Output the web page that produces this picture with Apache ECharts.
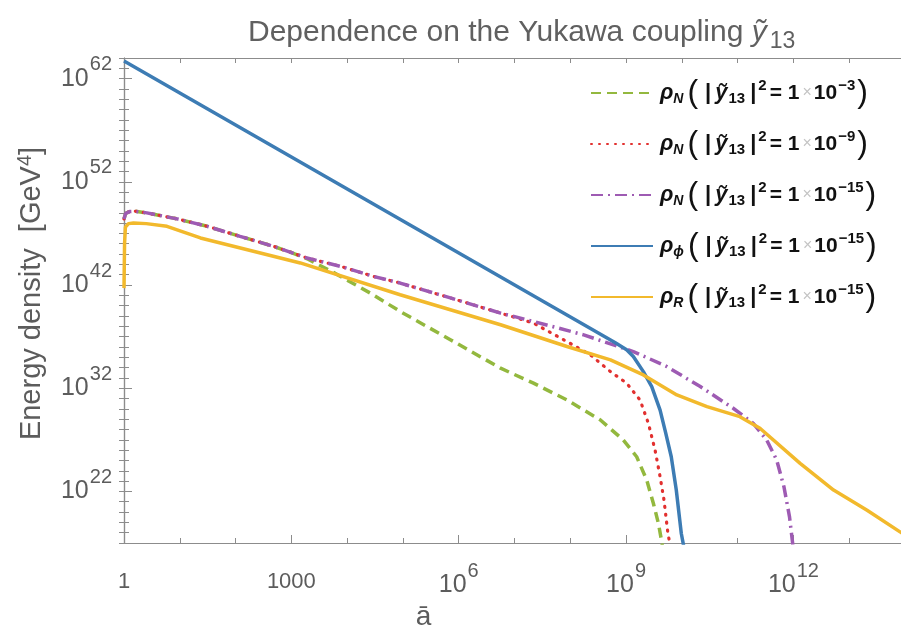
<!DOCTYPE html>
<html>
<head>
<meta charset="utf-8">
<script src="https://cdn.jsdelivr.net/npm/echarts@6/dist/echarts.min.js"></script>
<style>
  html, body { margin: 0; padding: 0; background: #fff; }
  #chart { width: 901px; height: 630px; }
</style>
</head>
<body>
<div id="chart"></div>
<script>
// Horizontal values are log10(ā), vertical values are log10(ρ / GeV^4).

// ρ_N, |ỹ13|^2 = 1e-3
const nDecay3X = [0, 0.03, 0.1, 0.2, 0.41, 0.95, 1.49, 2.08, 2.68, 3.0, 3.3, 3.76, 4.42, 4.95, 5.85, 6.75, 7.34, 7.94, 8.54, 8.95, 9.19, 9.37, 9.49, 9.58, 9.65];
const nDecay3Y = [48.4, 48.95, 49.12, 49.15, 48.99, 48.41, 47.69, 46.72, 45.75, 45.15, 44.5, 43.2, 41.2, 39.44, 36.7, 33.94, 32.49, 30.86, 28.92, 26.98, 25.36, 23.1, 20.83, 18.89, 16.8];

// ρ_N, |ỹ13|^2 = 1e-9
const nDecay9X = [0, 0.03, 0.1, 0.2, 0.41, 0.95, 1.49, 2.08, 2.68, 3.28, 3.88, 4.47, 4.95, 5.85, 6.75, 7.34, 7.94, 8.36, 8.72, 9.01, 9.25, 9.40, 9.52, 9.61, 9.68, 9.75, 9.79];
const nDecay9Y = [48.4, 48.95, 49.12, 49.15, 48.99, 48.41, 47.69, 46.72, 45.75, 44.62, 43.81, 42.84, 42.19, 40.75, 39.28, 38.31, 36.52, 35.23, 33.61, 32.49, 30.86, 28.6, 26.0, 23.42, 21.16, 17.92, 16.8];

// ρ_N, |ỹ13|^2 = 1e-15
const nDecay15X = [0, 0.03, 0.1, 0.2, 0.41, 0.95, 1.49, 2.08, 2.68, 3.28, 3.88, 4.47, 4.95, 5.85, 6.75, 7.34, 8.24, 9.13, 9.73, 10.33, 10.92, 11.28, 11.52, 11.70, 11.83, 11.93, 11.99];
const nDecay15Y = [48.4, 48.95, 49.12, 49.15, 48.99, 48.41, 47.69, 46.72, 45.75, 44.62, 43.81, 42.84, 42.19, 40.75, 39.28, 38.47, 37.17, 35.55, 34.10, 32.16, 30.06, 28.6, 26.98, 25.04, 22.45, 19.53, 16.8];

// ρ_φ, |ỹ13|^2 = 1e-15
const phiX = [0, 4.4, 8.8, 9.01, 9.13, 9.31, 9.46, 9.61, 9.71, 9.81, 9.90, 9.99, 10.04];
const phiY = [63.7, 50.06, 36.42, 35.72, 35.07, 33.61, 32.16, 29.88, 27.67, 25.36, 22.13, 17.92, 16.5];

// ρ_R, |ỹ13|^2 = 1e-15
const radX = [0, 0.01, 0.025, 0.08, 0.17, 0.4, 0.77, 1.37, 3.16, 4.95, 6.75, 7.94, 8.72, 9.31, 9.91, 10.45, 11.04, 11.40, 12.12, 12.72, 13.32, 13.91, 14.0];
const radY = [41.7, 46.0, 47.6, 47.95, 48.02, 47.95, 47.69, 46.56, 44.14, 41.06, 38.15, 36.04, 34.75, 33.29, 31.35, 30.21, 29.24, 28.12, 24.72, 22.13, 20.18, 18.08, 17.8];

// Axis ticks (exponents) and their labels
const xTickValues = [0, 3, 6, 9, 12];
const xTickLabels = ['1', '1000', '10^6', '10^9', '10^12'];
const yTickValues = [22, 32, 42, 52, 62];
const yTickLabels = ['10^22', '10^32', '10^42', '10^52', '10^62'];

// Legend: subscript of ρ and exponent of |ỹ13|^2
const legendSub = ['N', 'N', 'N', 'ϕ', 'R'];
const legendExp = ['−3', '−9', '−15', '−15', '−15'];
const seriesNames = ['rhoN3', 'rhoN9', 'rhoN15', 'rhoPhi', 'rhoR'];

const FONT = '"Liberation Sans", Arial, Helvetica, sans-serif';
const AXIS_GRAY = '#8c8c8c';
const LABEL_GRAY = '#5c5c5c';

function pairs(xs, ys) { return xs.map((x, i) => [x, ys[i]]); }

// "10^6" -> base + raised exponent; plain numbers use their own style
function powerRich(txt) {
  const k = txt.indexOf('^');
  if (k < 0) return '{p|' + txt + '}';
  return '{b|' + txt.slice(0, k) + '}{s|' + txt.slice(k + 1) + '}';
}

// Raising/lowering is done with asymmetric token padding
const tickRich = {
  p: { fontSize: 22, color: LABEL_GRAY, fontFamily: FONT, lineHeight: 22, padding: [7, 0, 0, 0] },
  b: { fontSize: 25, color: LABEL_GRAY, fontFamily: FONT, lineHeight: 25, padding: [12, 0, 0, 0] },
  s: { fontSize: 20, color: LABEL_GRAY, fontFamily: FONT, lineHeight: 20, padding: [0, 0, 16, 1] }
};

function legendText(i) {
  return '{rho|ρ}{sub|' + legendSub[i] + '}{par|(}{bar||}{y|ỹ}{n|13}{bar2||}{sup|2}{eq|= 1}{x|×}{eq2|10}{sup|' + legendExp[i] + '}{par|)}';
}

const INK = '#111111';
const legendRich = {
  rho: { fontSize: 22, fontWeight: 'bold', fontStyle: 'italic', fontFamily: FONT, color: INK },
  sub: { fontSize: 14, fontWeight: 'bold', fontStyle: 'italic', fontFamily: FONT, color: INK, lineHeight: 16, padding: [12, 2, 0, 0] },
  par: { fontSize: 32, fontFamily: FONT, color: INK, lineHeight: 34, padding: [0, 3, 0, 2] },
  bar: { fontSize: 22, fontWeight: 'bold', fontFamily: FONT, color: INK, padding: [0, 4, 0, 4] },
  bar2: { fontSize: 22, fontWeight: 'bold', fontFamily: FONT, color: INK, padding: [0, 1, 0, 5] },
  y: { fontSize: 22, fontWeight: 'bold', fontStyle: 'italic', fontFamily: FONT, color: INK },
  n: { fontSize: 15, fontWeight: 'bold', fontFamily: FONT, color: INK, lineHeight: 16, padding: [12, 0, 0, 1] },
  sup: { fontSize: 15, fontWeight: 'bold', fontFamily: FONT, color: INK, lineHeight: 16, padding: [0, 0, 14, 1] },
  eq: { fontSize: 21, fontWeight: 'bold', fontFamily: FONT, color: INK, padding: [0, 0, 0, 3] },
  eq2: { fontSize: 21, fontWeight: 'bold', fontFamily: FONT, color: INK },
  x: { fontSize: 16, fontFamily: FONT, color: '#c4c4c4', padding: [0, 2, 0, 3] }
};

const lineCommon = { type: 'line', symbol: 'none', showSymbol: false, smooth: false, clip: true, xAxisIndex: 0, yAxisIndex: 0 };

const series = [
  Object.assign({}, lineCommon, { name: seriesNames[0], data: pairs(nDecay3X, nDecay3Y),
    lineStyle: { color: '#93b83e', width: 3.5, type: [10, 6] }, itemStyle: { color: '#93b83e' } }),
  Object.assign({}, lineCommon, { name: seriesNames[1], data: pairs(nDecay9X, nDecay9Y),
    lineStyle: { color: '#e2302f', width: 3.2, type: [1, 7], cap: 'round' }, itemStyle: { color: '#e2302f' } }),
  Object.assign({}, lineCommon, { name: seriesNames[2], data: pairs(nDecay15X, nDecay15Y),
    lineStyle: { color: '#9e5bb3', width: 3.5, type: [12, 5, 2, 5] }, itemStyle: { color: '#9e5bb3' } }),
  Object.assign({}, lineCommon, { name: seriesNames[3], data: pairs(phiX, phiY),
    lineStyle: { color: '#3d7cb4', width: 3.5 }, itemStyle: { color: '#3d7cb4' } }),
  Object.assign({}, lineCommon, { name: seriesNames[4], data: pairs(radX, radY),
    lineStyle: { color: '#f2b92c', width: 3.5 }, itemStyle: { color: '#f2b92c' } })
];

const axisLine = { show: true, lineStyle: { color: AXIS_GRAY, width: 1.2 } };
const minorTick = { show: true, inside: true, length: 5, lineStyle: { color: AXIS_GRAY, width: 1 } };

const option = {
  animation: false,
  backgroundColor: '#ffffff',
  textStyle: { fontFamily: FONT },
  title: {
    text: '{t|Dependence on the Yukawa coupling }{y|ỹ}{s|13}',
    left: 243, top: 8,
    textStyle: {
      fontWeight: 'normal',
      rich: {
        t: { fontSize: 30, color: '#606060', fontFamily: FONT, fontWeight: 'normal', lineHeight: 40 },
        y: { fontSize: 30, color: '#606060', fontFamily: FONT, fontWeight: 'normal', fontStyle: 'italic', lineHeight: 40 },
        s: { fontSize: 23, color: '#606060', fontFamily: FONT, fontWeight: 'normal', verticalAlign: 'bottom', padding: [0, 0, 0, 3] }
      }
    }
  },
  // the plot frame is fixed; labels are allowed to sit outside it
  grid: { left: 124, right: -4, top: 58, bottom: 87, containLabel: false, outerBoundsMode: 'none' },
  legend: {
    orient: 'vertical', left: 585, top: 72,
    itemWidth: 62, itemHeight: 12, itemGap: 19,
    data: seriesNames,
    itemStyle: { opacity: 0 },
    formatter: name => legendText(seriesNames.indexOf(name)),
    textStyle: { rich: legendRich, padding: [0, 0, 0, 2] }
  },
  xAxis: [
    {
      type: 'value', min: 0, max: 14, interval: 1, position: 'bottom',
      name: 'ā', nameLocation: 'middle', nameGap: 54,
      nameTextStyle: { fontSize: 28, color: LABEL_GRAY, fontFamily: FONT, padding: [0, 182, 0, 0] },
      axisLine: axisLine, axisTick: minorTick, splitLine: { show: false },
      axisLabel: {
        customValues: xTickValues, margin: 24, verticalAlign: 'top', color: LABEL_GRAY, rich: tickRich,
        formatter: v => powerRich(xTickLabels[xTickValues.indexOf(v)] || '')
      }
    },
    {
      type: 'value', min: 0, max: 14, interval: 1, position: 'bottom',
      axisLine: { show: false }, splitLine: { show: false }, axisLabel: { show: false },
      axisTick: { show: true, inside: true, length: 8, customValues: xTickValues, lineStyle: { color: AXIS_GRAY, width: 1 } }
    },
    {
      type: 'value', min: 0, max: 14, interval: 1, position: 'top',
      axisLine: axisLine, axisTick: minorTick, splitLine: { show: false }, axisLabel: { show: false }
    }
  ],
  yAxis: [
    {
      type: 'value', min: 17, max: 64, interval: 1, position: 'left',
      name: '{t|Energy density  [GeV}{s|4}{t|]}', nameLocation: 'middle', nameGap: 75,
      nameTextStyle: {
        padding: [0, 0, 0, 14],
        rich: {
          t: { fontSize: 29, color: LABEL_GRAY, fontFamily: FONT, lineHeight: 34 },
          s: { fontSize: 20, color: LABEL_GRAY, fontFamily: FONT, lineHeight: 20, padding: [0, 0, 14, 0] }
        }
      },
      axisLine: axisLine, axisTick: minorTick, splitLine: { show: false },
      axisLabel: {
        customValues: yTickValues, margin: 12, color: LABEL_GRAY, rich: tickRich,
        padding: [0, 0, 12, 0],
        formatter: v => powerRich(yTickLabels[yTickValues.indexOf(v)] || '')
      }
    },
    {
      type: 'value', min: 17, max: 64, interval: 1, position: 'left',
      axisLine: { show: false }, splitLine: { show: false }, axisLabel: { show: false },
      axisTick: { show: true, inside: true, length: 8, customValues: yTickValues, lineStyle: { color: AXIS_GRAY, width: 1 } }
    },
    {
      type: 'value', min: 17, max: 64, interval: 1, position: 'right',
      axisLine: axisLine, axisTick: minorTick, splitLine: { show: false }, axisLabel: { show: false }
    }
  ],
  series: series
};

const chart = echarts.init(document.getElementById('chart'), null, { renderer: 'canvas' });
chart.setOption(option);
</script>
</body>
</html>
